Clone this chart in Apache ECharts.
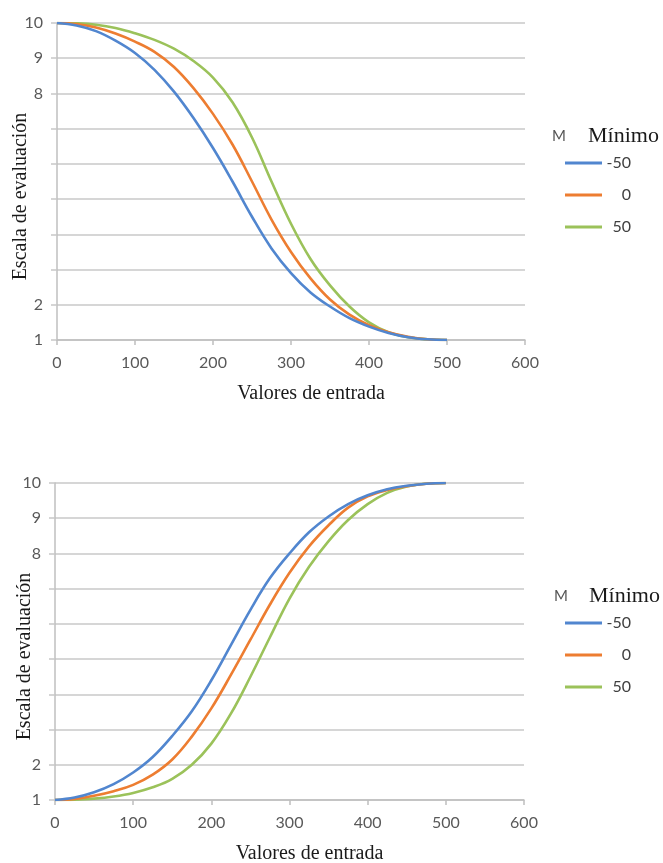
<!DOCTYPE html>
<html>
<head>
<meta charset="utf-8">
<script src="https://cdn.jsdelivr.net/npm/echarts@6/dist/echarts.min.js"></script>
<style>
html,body{margin:0;padding:0;background:#fff;}
#chart{width:663px;height:863px;}
</style>
</head>
<body>
<div id="chart"></div>
<script>
// ---- data ----
const xs = [0,25,50,75,100,125,150,175,200,225,250,275,300,325,350,375,400,425,450,475,500];
const seriesNames = ['-50','0','50'];
const colors = ['#5186cf','#ed7d31','#9bc25a'];
const yLabelsShown = [10,9,8,2,1];
const legendTitle = 'Mínimo';
const legendMark = 'M';
const xName = 'Valores de entrada';
const yName = 'Escala de evaluación';

const topBlue   = [10,9.93,9.77,9.5,9.15,8.67,8.05,7.3,6.45,5.5,4.5,3.6,2.9,2.35,1.95,1.62,1.38,1.2,1.08,1.02,1];
const topOrange = [10,9.97,9.87,9.7,9.47,9.18,8.75,8.15,7.42,6.55,5.5,4.42,3.5,2.75,2.15,1.72,1.42,1.22,1.09,1.02,1];
const topGreen  = [10,9.99,9.95,9.86,9.71,9.52,9.27,8.92,8.45,7.75,6.75,5.5,4.3,3.3,2.55,1.95,1.5,1.22,1.08,1.02,1];

const botBlue   = [1,1.07,1.22,1.45,1.78,2.22,2.82,3.52,4.4,5.4,6.4,7.3,8.0,8.6,9.05,9.4,9.65,9.82,9.92,9.98,10];
const botOrange = [1,1.03,1.12,1.25,1.43,1.72,2.15,2.8,3.6,4.55,5.55,6.55,7.45,8.2,8.8,9.3,9.62,9.8,9.91,9.98,10];
const botGreen  = [1,1.01,1.04,1.1,1.2,1.36,1.6,2.0,2.6,3.45,4.5,5.62,6.72,7.62,8.35,8.95,9.4,9.72,9.9,9.98,10];

// ---- chart ----
const chart = echarts.init(document.getElementById('chart'));
const pairs = ys => xs.map((x,i)=>[x, ys[i]]);
const labelFont = 'Lato, "Open Sans", sans-serif';
const serifFont = '"Liberation Serif", "DejaVu Serif", serif';

function xAxisCfg(gridIndex){
  return {
    type:'value', gridIndex, min:0, max:600, interval:100,
    name:xName, nameLocation:'middle', nameGap:44, nameMoveOverlap:false,
    nameTextStyle:{fontFamily:serifFont, fontSize:20, color:'#1a1a1a', padding:[0,0,0,40]},
    axisLine:{show:true, lineStyle:{color:'#bfbfbf', width:1.5}},
    axisTick:{show:true, length:5, lineStyle:{color:'#bfbfbf', width:1.5}},
    axisLabel:{margin:15, fontFamily:labelFont, fontSize:16, color:'#595959'},
    splitLine:{show:false}
  };
}
function yAxisCfg(gridIndex, gap){
  return {
    type:'value', gridIndex, min:1, max:10, interval:1,
    name:yName, nameLocation:'middle', nameGap:gap, nameMoveOverlap:false,
    nameTextStyle:{fontFamily:serifFont, fontSize:20, color:'#1a1a1a', padding:[0,30,0,0]},
    axisLine:{show:true, lineStyle:{color:'#bfbfbf', width:1.5}},
    axisTick:{show:true, length:6, lineStyle:{color:'#c8c8c8', width:1.5}},
    axisLabel:{margin:14, fontFamily:labelFont, fontSize:16, color:'#595959',
      formatter: v => yLabelsShown.indexOf(v) >= 0 ? String(v) : ''},
    splitLine:{show:true, lineStyle:{color:'#c8c8c8', width:1.5}}
  };
}
function legendCfg(top){
  return {
    orient:'vertical', left:565, top, padding:0, icon:'rect', itemWidth:37, itemHeight:3, itemGap:16,
    data:seriesNames.slice(),
    formatter: n => '{a|' + n + '}',
    textStyle:{rich:{a:{width:24, height:16, lineHeight:16, align:'right', fontFamily:labelFont, fontSize:16, color:'#404040'}}}
  };
}
function seriesFor(arrs, idx){
  return arrs.map((ys,i)=>({
    name:seriesNames[i], type:'line', xAxisIndex:idx, yAxisIndex:idx,
    data:pairs(ys), smooth:0.4, symbol:'none',
    lineStyle:{color:colors[i], width:2.6}, itemStyle:{color:colors[i]},
    z: 3 - i
  }));
}

chart.setOption({
  backgroundColor:'#fff',
  animation:false,
  grid:[
    {left:57, right:138, top:23, bottom:523, outerBoundsMode:'none', containLabel:false},
    {left:55, right:139, top:483, bottom:63, outerBoundsMode:'none', containLabel:false}
  ],
  xAxis:[xAxisCfg(0), xAxisCfg(1)],
  yAxis:[yAxisCfg(0,26), yAxisCfg(1,20)],
  legend:[legendCfg(155), legendCfg(615)],
  graphic:[
    {type:'text', left:552, top:129, style:{text:legendMark, font:'15px Lato, sans-serif', fill:'#555'}},
    {type:'text', left:588, top:125, style:{text:legendTitle, font:'22px "Liberation Serif", serif', fill:'#1a1a1a'}},
    {type:'text', left:554, top:589, style:{text:legendMark, font:'15px Lato, sans-serif', fill:'#555'}},
    {type:'text', left:589, top:585, style:{text:legendTitle, font:'22px "Liberation Serif", serif', fill:'#1a1a1a'}}
  ],
  series:[...seriesFor([topBlue,topOrange,topGreen],0), ...seriesFor([botBlue,botOrange,botGreen],1)]
});
</script>
</body>
</html>
